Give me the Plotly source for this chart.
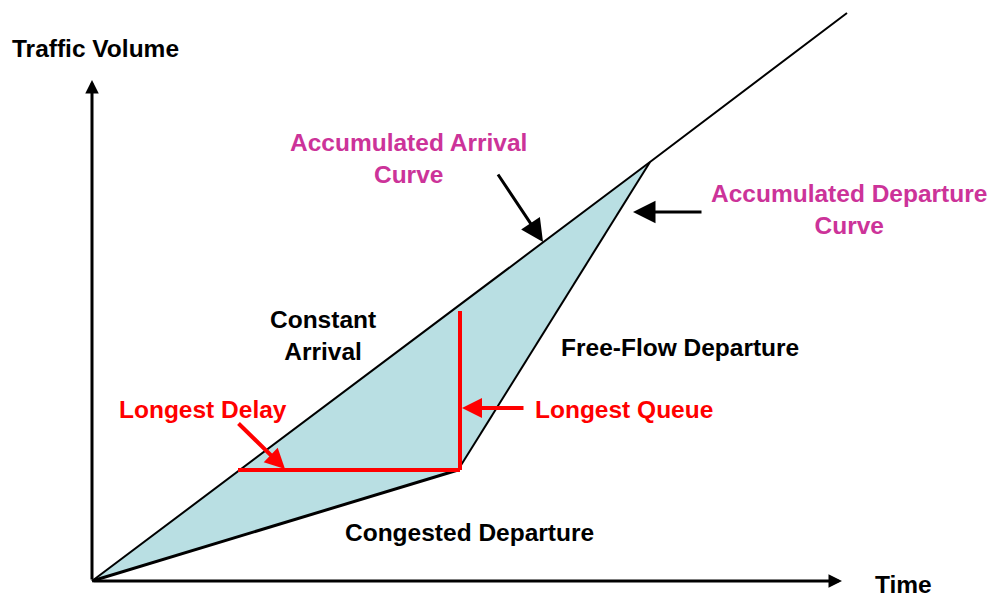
"""Cumulative arrival / departure diagram for a queue."""

import plotly.graph_objects as go

# cumulative curves (time, volume)
arrival_t = [0, 558, 755]
arrival_v = [0, 419, 568]
departure_t = [0, 366, 558]
departure_v = [0, 111, 419]

# longest delay (horizontal) and longest queue (vertical)
delay_t = [146, 368]
delay_v = [111, 111]
queue_t = [368, 368]
queue_v = [111, 270]

# axis extents
time_max = 750
volume_max = 501

BLACK = "#000000"
RED = "#FF0000"
MAGENTA = "#CC3399"
FILL = "#B9DFE3"
FONT = "Liberation Sans, Arial, sans-serif"

fig = go.Figure()

# shaded area between the arrival and departure curves
fig.add_trace(go.Scatter(
    x=arrival_t[:2] + departure_t[::-1][1:],
    y=arrival_v[:2] + departure_v[::-1][1:],
    fill="toself", fillcolor=FILL, mode="none", hoverinfo="skip"))

fig.add_trace(go.Scatter(x=arrival_t, y=arrival_v, mode="lines", line=dict(color=BLACK, width=2)))
fig.add_trace(go.Scatter(x=departure_t[:2], y=departure_v[:2], mode="lines", line=dict(color=BLACK, width=3)))
fig.add_trace(go.Scatter(x=departure_t[1:], y=departure_v[1:], mode="lines", line=dict(color=BLACK, width=2)))
fig.add_trace(go.Scatter(x=delay_t, y=delay_v, mode="lines", line=dict(color=RED, width=4)))
fig.add_trace(go.Scatter(x=queue_t, y=queue_v, mode="lines", line=dict(color=RED, width=4)))


def arrow(tip, tail, color, width, size):
    fig.add_annotation(x=tip[0], y=tip[1], ax=tail[0], ay=tail[1], axref="x", ayref="y",
                       text="", showarrow=True, arrowhead=2, arrowcolor=color,
                       arrowwidth=width, arrowsize=size)


# axes
arrow((0, volume_max), (0, 0), BLACK, 3, 0.9)
arrow((time_max, 0), (0, 0), BLACK, 3, 0.9)

# pointers
arrow((451, 339), (405, 408), BLACK, 3, 1.5)
arrow((541, 369), (611, 369), BLACK, 3, 1.5)
arrow((193, 112), (145, 159), RED, 4, 1.0)
arrow((370, 173), (433, 173), RED, 4, 1.0)


def label(t, v, text, color=BLACK):
    fig.add_annotation(x=t, y=v, text=text, showarrow=False, xanchor="center", yanchor="middle",
                       font=dict(family=FONT, size=24.5, color=color))


label(3, 533, "<b>Traffic Volume</b>")
label(811, -3, "<b>Time</b>")
label(316, 423, "<b>Accumulated Arrival<br>Curve</b>", MAGENTA)
label(757, 372, "<b>Accumulated Departure<br>Curve</b>", MAGENTA)
label(231, 246, "<b>Constant<br>Arrival</b>")
label(588, 234, "<b>Free-Flow Departure</b>")
label(111, 172, "<b>Longest Delay</b>", RED)
label(532, 172, "<b>Longest Queue</b>", RED)
label(377, 49, "<b>Congested Departure</b>")

# page body margin offsets the plot by 8px, so the ranges are shifted to match
fig.update_xaxes(range=[-84, 911], visible=False)
fig.update_yaxes(range=[-25, 573], visible=False)
fig.update_layout(width=995, height=598, margin=dict(l=0, r=0, t=0, b=0),
                  plot_bgcolor="white", paper_bgcolor="white", showlegend=False)

fig.write_html("out.html")
